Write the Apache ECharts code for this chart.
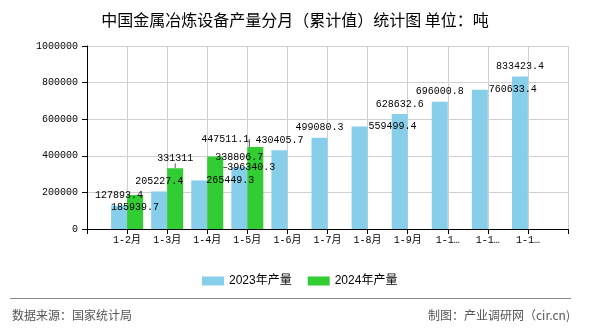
<!DOCTYPE html>
<html><head><meta charset="utf-8">
<script src="https://cdn.jsdelivr.net/npm/echarts@6/dist/echarts.min.js"></script>
<style>html,body{margin:0;padding:0;background:#fff}#c{width:590px;height:330px}</style>
</head><body><div id="c"></div>
<script>
var categories = ['1-2月','1-3月','1-4月','1-5月','1-6月','1-7月','1-8月','1-9月','1-10月','1-11月','1-12月'];
var values2023 = [127893.4, 205227.4, 265449.3, 338806.7, 430405.7, 499080.3, 559499.4, 628632.6, 696000.8, 760633.4, 833423.4];
var values2024 = [185939.7, 331311, 396340.3, 447511.1];
var seriesNames = ['2023年产量', '2024年产量'];
var yTicks = [0, 200000, 400000, 600000, 800000, 1000000];

// label nudges (styling, keyed by category)
var nudge2023 = {'1-4月':[31,10], '1-8月':[33,10], '1-11月':[33,10]};
var nudge2024 = {'1-2月':[0,22], '1-4月':[36,21], '1-5月':[-30,2]};

var axisCats = [''].concat(categories).concat(['']);
function pad(arr){ var d=['-']; for (var i=0;i<categories.length;i++){ d.push(i<arr.length?arr[i]:'-'); } d.push('-'); return d; }
function layoutFn(nudge){ return function(p){ var o = nudge[axisCats[p.dataIndex]]; return o ? {dx:o[0], dy:o[1]} : {}; }; }

var mono = "'Liberation Mono', 'Noto Sans CJK SC', monospace";
var chart = echarts.init(document.getElementById('c'));
chart.setOption({
  animation: false,
  backgroundColor: '#fff',
  title: { text: '中国金属冶炼设备产量分月（累计值）统计图 单位：吨', left: 'center', top: 7,
    textStyle: { fontFamily: 'Noto Sans CJK SC', fontSize: 16, fontWeight: 'normal', color: '#000' } },
  grid: { left: 87, right: 22, top: 46, bottom: 101 },
  legend: { left: 197, top: 270, itemWidth: 22, itemHeight: 9, itemGap: 16, icon: 'rect',
    textStyle: { fontFamily: "'Liberation Sans','Noto Sans CJK SC'", fontSize: 12, color: '#000' },
    data: seriesNames },
  xAxis: { type: 'category', data: axisCats, boundaryGap: false,
    axisLine: { lineStyle: { color: '#000' } },
    axisTick: { show: true, length: 5, lineStyle: { color: '#000' } },
    splitLine: { show: true, lineStyle: { color: '#d0d0d0' } },
    axisLabel: { interval: 0, margin: 6, fontFamily: mono, fontSize: 10, color: '#000', width: 31, overflow: 'truncate', ellipsis: '…' } },
  yAxis: { type: 'value', min: yTicks[0], max: yTicks[yTicks.length-1], interval: yTicks[1]-yTicks[0],
    axisLine: { show: true, lineStyle: { color: '#000' } },
    axisTick: { show: true, length: 5, lineStyle: { color: '#000' } },
    splitLine: { show: true, lineStyle: { color: '#d0d0d0' } },
    axisLabel: { margin: 9, fontFamily: mono, fontSize: 10, color: '#000', formatter: function(v){ return String(v); } } },
  series: [
    { name: seriesNames[0], type: 'bar', data: pad(values2023), barWidth: 16, barGap: '0%',
      itemStyle: { color: '#87CEEB' },
      label: { show: true, position: 'top', distance: 5, fontFamily: mono, fontSize: 10, color: '#000' },
      labelLayout: layoutFn(nudge2023) },
    { name: seriesNames[1], type: 'bar', data: pad(values2024), barWidth: 16, barGap: '0%',
      itemStyle: { color: '#32CD32' },
      label: { show: true, position: 'top', distance: 5, fontFamily: mono, fontSize: 10, color: '#000' },
      labelLine: { show: true, lineStyle: { color: '#555', width: 1 } },
      labelLayout: layoutFn(nudge2024) }
  ],
  graphic: [
    { type: 'line', shape: { x1: 10, y1: 298.5, x2: 571, y2: 298.5 }, style: { stroke: '#888', lineWidth: 1 } },
    { type: 'text', left: 12, top: 309, style: { text: '数据来源：国家统计局', font: "12px 'Noto Sans CJK SC'", fill: '#555' } },
    { type: 'text', right: 20, top: 309, style: { text: '制图：产业调研网（cir.cn)', font: "12px 'Noto Sans CJK SC'", fill: '#555' } }
  ]
});
</script></body></html>
